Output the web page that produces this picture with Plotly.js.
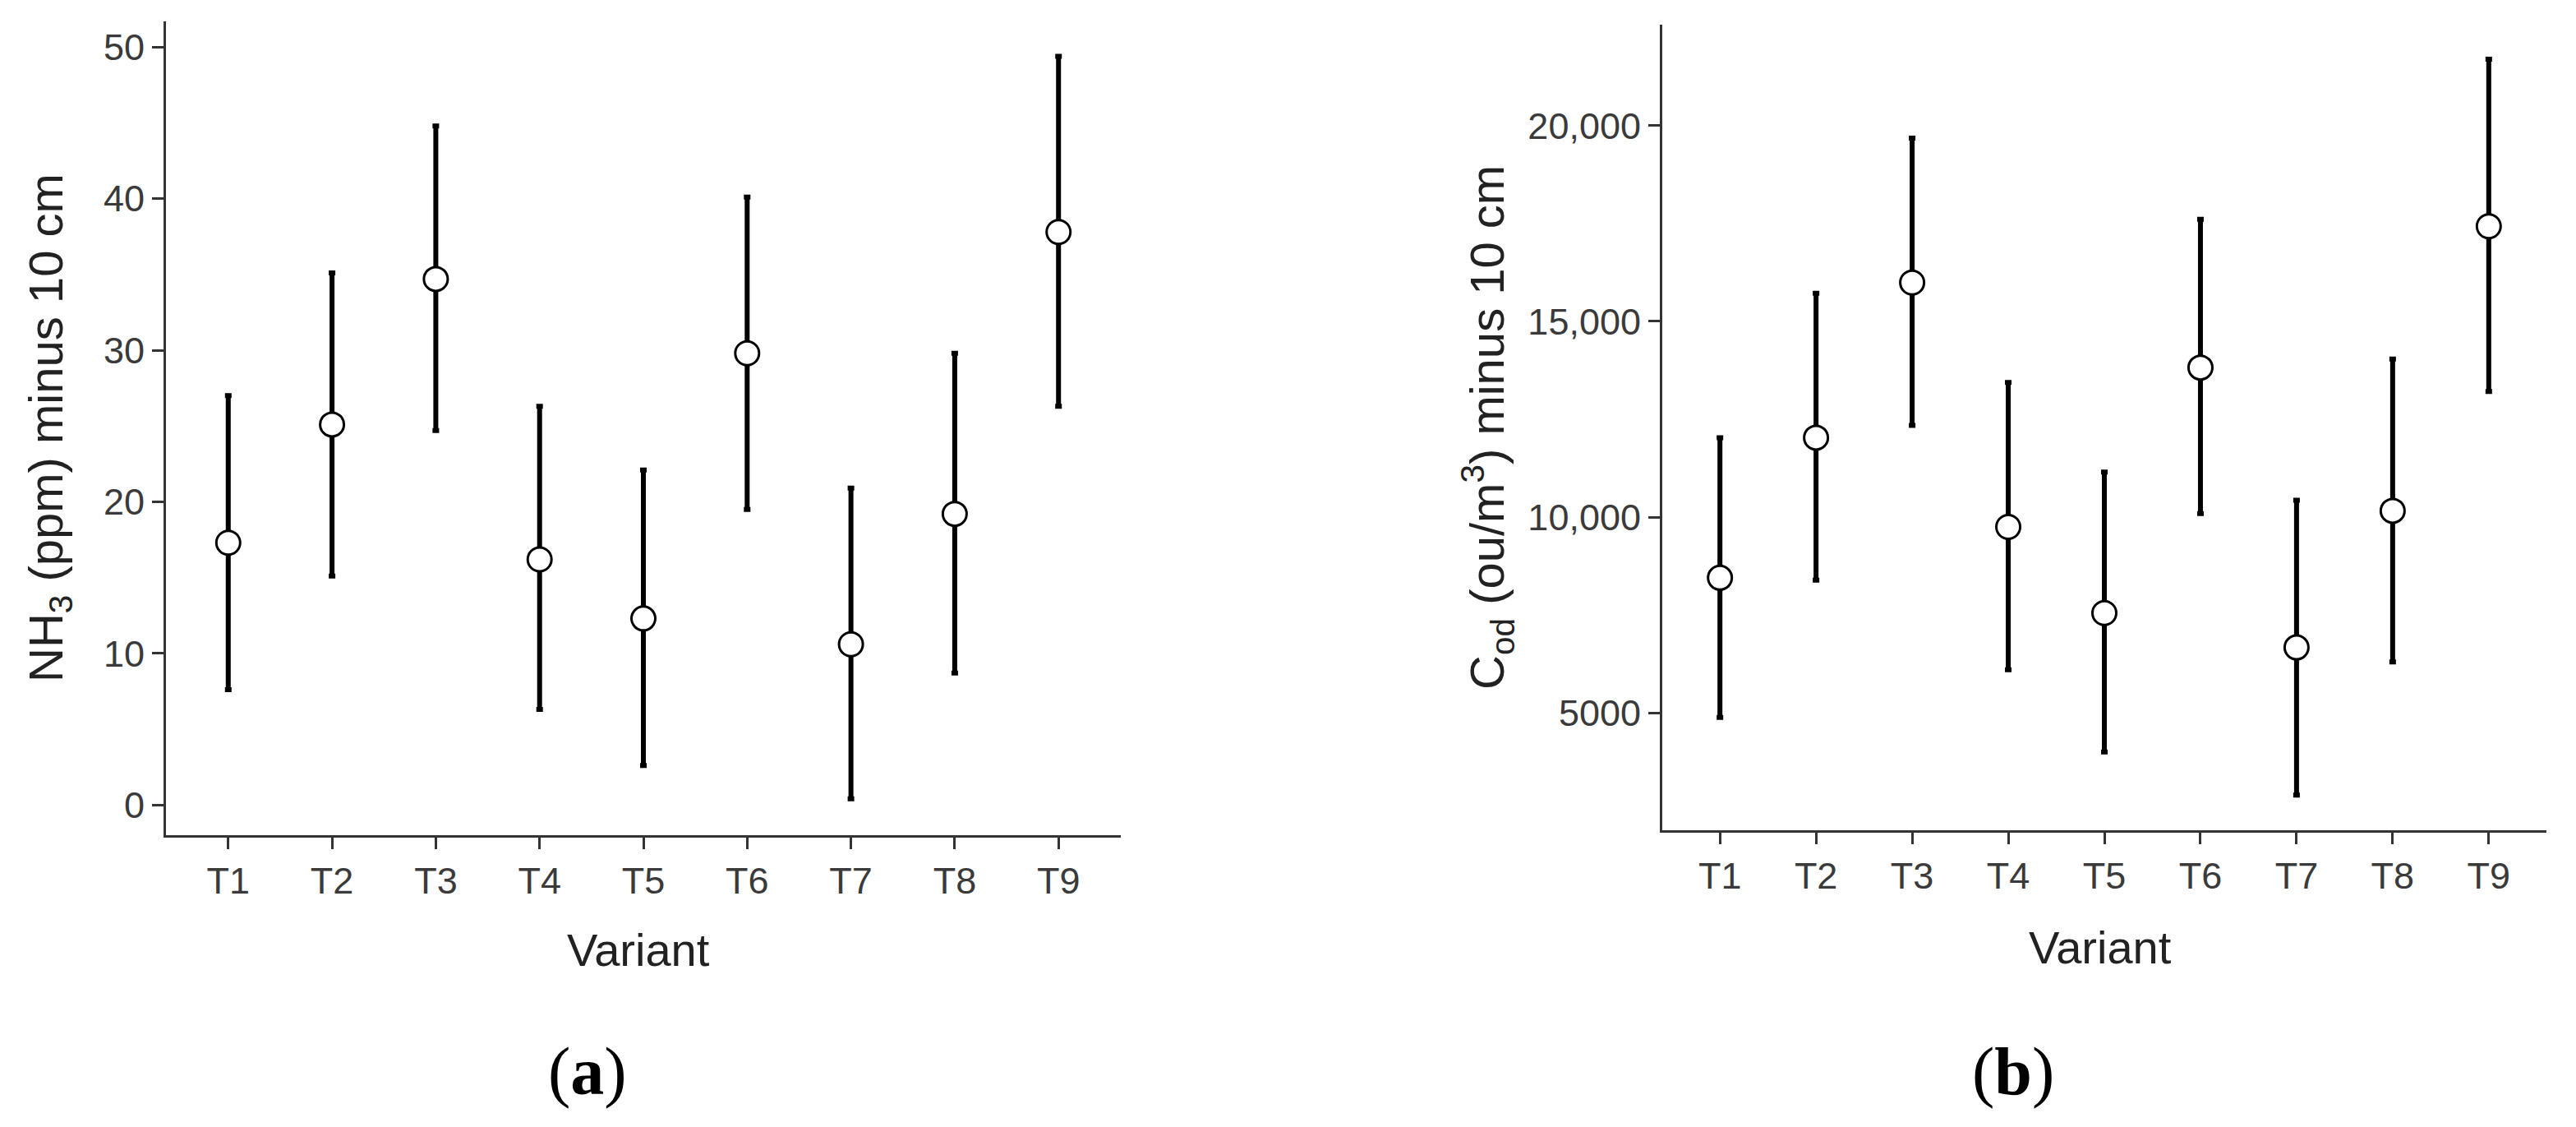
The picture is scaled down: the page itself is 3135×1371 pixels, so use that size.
<!DOCTYPE html>
<html>
<head>
<meta charset="utf-8">
<script src="https://cdn.plot.ly/plotly-3.0.1.min.js"></script>
<style>
  html, body { margin: 0; padding: 0; background: #ffffff; }
  #chart { width: 3135px; height: 1371px; }
</style>
</head>
<body>
<div id="chart"></div>
<script>
// ---- Data ----
const variants = ["T1", "T2", "T3", "T4", "T5", "T6", "T7", "T8", "T9"];

// Panel (a): NH3 (ppm) minus 10 cm
const nh3Mean  = [17.3, 25.1, 34.7, 16.2, 12.3, 29.8, 10.6, 19.2, 37.8];
const nh3Upper = [27.0, 35.1, 44.8, 26.3, 22.1, 40.1, 20.9, 29.8, 49.4];
const nh3Lower = [7.6, 15.1, 24.7, 6.3, 2.6, 19.5, 0.4, 8.7, 26.3];

// Panel (b): Cod (ou/m3) minus 10 cm
const codMean  = [8450, 12030, 15990, 9750, 7550, 13820, 6670, 10160, 17430];
const codUpper = [12030, 15720, 19680, 13440, 11150, 17610, 10430, 14040, 21700];
const codLower = [4880, 8390, 12340, 6100, 4000, 10090, 2900, 6300, 13210];

const nh3TickVals = [0, 10, 20, 30, 40, 50];
const nh3TickText = ["0", "10", "20", "30", "40", "50"];
const codTickVals = [5000, 10000, 15000, 20000];
const codTickText = ["5000", "10,000", "15,000", "20,000"];

// ---- Helpers ----
const W = 3135, H = 1371;
const px = v => v / W;
const py = v => 1 - v / H;

const tickFont = { family: "Liberation Sans, Arial, sans-serif", size: 45, color: "#3a3a3a" };
const titleFont = { family: "Liberation Sans, Arial, sans-serif", size: 56, color: "#222222" };
const yTitleFont = { family: "Liberation Sans, Arial, sans-serif", size: 58, color: "#222222" };
const panelFont = { family: "Liberation Serif, Times New Roman, serif", size: 82, color: "#000000" };

function diff(a, b) { return a.map((v, i) => v - b[i]); }

function makeTrace(mean, upper, lower, xa, ya) {
  return {
    type: "scatter",
    mode: "markers",
    x: variants,
    y: mean,
    xaxis: xa,
    yaxis: ya,
    marker: { symbol: "circle", size: 29, color: "#ffffff", line: { color: "#000000", width: 3 } },
    error_y: {
      type: "data",
      symmetric: false,
      array: diff(upper, mean),
      arrayminus: diff(mean, lower),
      color: "#000000",
      thickness: 6,
      width: 4
    },
    showlegend: false,
    hoverinfo: "skip"
  };
}

const data = [
  makeTrace(nh3Mean, nh3Upper, nh3Lower, "x", "y"),
  makeTrace(codMean, codUpper, codLower, "x2", "y2")
];

const axisCommon = {
  showline: true,
  linecolor: "#333333",
  linewidth: 3,
  ticks: "outside",
  ticklen: 14,
  tickwidth: 3,
  tickcolor: "#333333",
  showgrid: false,
  zeroline: false,
  tickfont: tickFont,
  fixedrange: true
};

const layout = {
  width: W,
  height: H,
  margin: { l: 0, r: 0, t: 0, b: 0, pad: 0 },
  paper_bgcolor: "#ffffff",
  plot_bgcolor: "#ffffff",
  showlegend: false,
  xaxis: Object.assign({}, axisCommon, {
    domain: [px(202), px(1364)],
    anchor: "y",
    type: "category",
    categoryorder: "array",
    categoryarray: variants,
    range: [-0.6, 8.6]
  }),
  yaxis: Object.assign({}, axisCommon, {
    domain: [py(1016), py(26)],
    anchor: "x",
    range: [-2.0, 51.7],
    tickmode: "array",
    tickvals: nh3TickVals,
    ticktext: nh3TickText
  }),
  xaxis2: Object.assign({}, axisCommon, {
    domain: [px(2023), px(3099)],
    anchor: "y2",
    type: "category",
    categoryorder: "array",
    categoryarray: variants,
    range: [-0.6, 8.6]
  }),
  yaxis2: Object.assign({}, axisCommon, {
    domain: [py(1010), py(30)],
    anchor: "x2",
    range: [2000, 22580],
    tickmode: "array",
    tickvals: codTickVals,
    ticktext: codTickText
  }),
  annotations: [
    { xref: "paper", yref: "paper", x: px(60), y: py(521), text: "NH<sub>3</sub> (ppm) minus 10 cm",
      textangle: -90, showarrow: false, xanchor: "center", yanchor: "middle", font: yTitleFont },
    { xref: "paper", yref: "paper", x: px(1810), y: py(520), text: "C<sub>od</sub> (ou/m<sup>3</sup>) minus 10 cm",
      textangle: -90, showarrow: false, xanchor: "center", yanchor: "middle", font: yTitleFont },
    { xref: "paper", yref: "paper", x: px(777), y: py(1155), text: "Variant",
      showarrow: false, xanchor: "center", yanchor: "middle", font: titleFont },
    { xref: "paper", yref: "paper", x: px(2556), y: py(1152), text: "Variant",
      showarrow: false, xanchor: "center", yanchor: "middle", font: titleFont },
    { xref: "paper", yref: "paper", x: px(715), y: py(1303), text: "(<b>a</b>)",
      showarrow: false, xanchor: "center", yanchor: "middle", font: panelFont },
    { xref: "paper", yref: "paper", x: px(2450), y: py(1303), text: "(<b>b</b>)",
      showarrow: false, xanchor: "center", yanchor: "middle", font: panelFont }
  ]
};

Plotly.newPlot("chart", data, layout, { displayModeBar: false, staticPlot: true });
</script>
</body>
</html>
